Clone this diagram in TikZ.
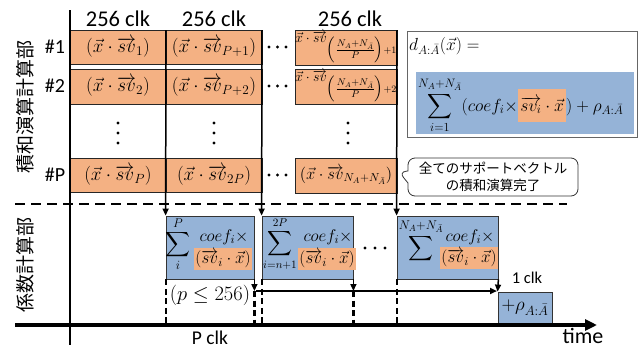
\RequirePackage{fix-cm}
\documentclass[tikz,border=0pt]{standalone}
\usepackage[no-math]{fontspec}
\setmainfont{Carlito}
\newfontfamily\jp{Noto Sans CJK JP}
\usepackage{amsmath}
\usetikzlibrary{arrows.meta,shapes.callouts}
\definecolor{sumorange}{HTML}{F4B183}
\definecolor{coefblue}{HTML}{95B3D7}
\tikzset{
  dotbox/.style={draw=black!85, fill=sumorange, line width=0.9pt, inner sep=0pt,
    font=\fontsize{19}{20}\selectfont},
  coefbox/.style={draw=black!80, fill=coefblue, line width=0.8pt, inner sep=0pt},
  hl/.style={fill=sumorange, inner xsep=1pt, inner ysep=2pt},
  colline/.style={line width=2.3pt},
  stub/.style={line width=2.2pt, dash pattern=on 6pt off 3.5pt},
  sepline/.style={line width=2.3pt, dash pattern=on 10pt off 6pt},
  arr/.style={-{Triangle[length=7pt,width=6pt]}, line width=1.5pt},
  clk/.style={font=\fontsize{22.5}{24}\selectfont},
  rowlbl/.style={font=\fontsize{20}{22}\selectfont},
  unitlbl/.style={font=\jp\fontsize{19}{20}\selectfont, rotate=90},
  mth/.style={inner sep=0pt, font=\fontsize{17}{20}\selectfont},
  summ/.style={inner sep=0pt, font=\fontsize{18}{20}\selectfont},
  fracidx/.style={inner sep=0pt, font=\fontsize{14}{15}\selectfont},
}
\newcommand{\svx}{\overrightarrow{sv}}
\newcommand{\blockidx}[1]{\textstyle\left(\frac{N_A+N_{\bar{A}}}{P}\right)\scriptstyle+#1}
\begin{document}
\begin{tikzpicture}[x=1pt,y=-1pt]
\useasboundingbox (0,0) rectangle (641,349);

% ---- dot-product blocks (upper section) ----
\node[dotbox, minimum width=96pt, minimum height=34pt] (a1) at (118,47) {$(\vec{x}\cdot\svx_1)$};
\node[dotbox, minimum width=96pt, minimum height=34pt] (b1) at (214,47) {$(\vec{x}\cdot\svx_{P+1})$};
\node[dotbox, minimum width=102pt, minimum height=35pt] (c1) at (346,47.5) {};
\node[fracidx] (c1t) at (346,47) {$\vec{x}\cdot\svx_{\blockidx{1}}$};
\node[dotbox, minimum width=96pt, minimum height=35pt] (a2) at (118,86.5) {$(\vec{x}\cdot\svx_2)$};
\node[dotbox, minimum width=96pt, minimum height=35pt] (b2) at (214,86.5) {$(\vec{x}\cdot\svx_{P+2})$};
\node[dotbox, minimum width=102pt, minimum height=35pt] (c2) at (346,86.5) {};
\node[fracidx] (c2t) at (346,86) {$\vec{x}\cdot\svx_{\blockidx{2}}$};
\node[dotbox, minimum width=96pt, minimum height=34pt] (ap) at (118,175) {$(\vec{x}\cdot\svx_P)$};
\node[dotbox, minimum width=96pt, minimum height=34pt] (bp) at (214,175) {$(\vec{x}\cdot\svx_{2P})$};
\node[dotbox, minimum width=102pt, minimum height=35pt, font=\fontsize{16.5}{18}\selectfont] (cp) at (346,175.5) {$(\vec{x}\cdot\svx_{N_A+N_{\bar{A}}})$};

% column headers and row labels
\node[clk] (h1) at (118,19) {256 clk};
\node[clk] (h2) at (214,19) {256 clk};
\node[clk] (h3) at (350,19) {256 clk};
\node[rowlbl] (l1) at (55,47) {\#1};
\node[rowlbl] (l2) at (55,86) {\#2};
\node[rowlbl] (lp) at (55,175) {\#P};
\node[unitlbl] (u1) at (25,107) {積和演算計算部};
\node[unitlbl] (u2) at (25,265) {係数計算部};

% ellipsis marks
\foreach \y in {47,86,175} \foreach \x in {269,277.5,286} \fill (\x,\y) circle (1.6pt);
\foreach \x in {118,214,348} \foreach \y in {123,133,143} \fill (\x,\y) circle (1.6pt);
\foreach \x in {365,375,385} \fill (\x,248) circle (1.6pt);

% ---- coefficient blocks (lower section) ----
\node[coefbox, minimum width=88pt, minimum height=63pt] (s1) at (210,247.5) {};
\node[coefbox, minimum width=91pt, minimum height=63pt] (s2) at (307.5,247.5) {};
\node[coefbox, minimum width=101pt, minimum height=63pt] (s3) at (447.5,247.5) {};
\node[coefbox, minimum width=54pt, minimum height=31pt, font=\fontsize{19}{20}\selectfont] (rho) at (525,307.5) {$+\rho_{A:\bar{A}}$};

\node[summ] (m1s) at (178,244) {$\displaystyle\sum_{i}^{P}$};
\node[mth] (m1c) at (224,237) {$coef_i\times$};
\node[mth, hl] (m1h) at (223,259) {$(\svx_i\cdot\vec{x})$};
\node[summ, font=\fontsize{16}{18}\selectfont] (m2s) at (280,244) {$\displaystyle\sum_{i=n+1}^{2P}$};
\node[mth] (m2c) at (328,237) {$coef_i\times$};
\node[mth, hl] (m2h) at (327,259) {$(\svx_i\cdot\vec{x})$};
\node[summ] (m3s) at (421,241) {$\displaystyle\sum^{N_A+N_{\bar{A}}}$};
\node[mth] (m3c) at (470,237) {$coef_i\times$};
\node[mth, hl] (m3h) at (469,258) {$(\svx_i\cdot\vec{x})$};

% ---- decision function ----
\node[draw=black!60, line width=1pt, fill=white, minimum width=230pt, minimum height=106pt] (fbox) at (522,84) {};
\node[mth, anchor=west, font=\fontsize{17.5}{20}\selectfont] (fd) at (409,46) {$d_{A:\bar{A}}(\vec{x}) =$};
\node[fill=coefblue, minimum width=218pt, minimum height=62pt, inner sep=0pt] (fblue) at (525,103) {};
\node[mth, anchor=base west, font=\fontsize{17.5}{20}\selectfont] (f1) at (418,111) {$\displaystyle\sum_{i=1}^{N_A+N_{\bar{A}}}(coef_i\times$};
\node[mth, fill=sumorange, inner xsep=2pt, inner ysep=8pt, anchor=base west, font=\fontsize{17.5}{20}\selectfont] (f2) at (f1.base east) {$\overrightarrow{sv_i}\cdot\vec{x}$};
\node[mth, anchor=base west, font=\fontsize{17.5}{20}\selectfont] (f3) at (f2.base east) {$)+\rho_{A:\bar{A}}$};

% completion note
\node[rectangle callout, draw=black!80, line width=0.8pt, rounded corners=7pt, fill=white,
  callout absolute pointer={(399,172)}, callout pointer width=12pt,
  minimum width=170pt, minimum height=38pt, align=center, inner sep=2pt,
  font=\jp\fontsize{13.5}{17}\selectfont] (note) at (493,177)
  {全てのサポートベクトル\\の積和演算完了};

% ---- axes and timing lines ----
\coordinate (ya) at (70,10);
\coordinate (yb) at (70,345);
\coordinate (t0) at (15,325);
\coordinate (t1) at (597,325);
\coordinate (d0) at (15,204);
\coordinate (d1) at (567,204);
\coordinate (c1top) at (166,30);
\coordinate (c2top) at (262,30);
\coordinate (c3top) at (397,30);
\coordinate (h0) at (256,291);
\coordinate (h1) at (497,291);

\draw[line width=2.6pt] (ya) -- (yb);
\draw[line width=3.2pt, -{Triangle[length=12pt,width=11pt]}] (t0) -- (t1);
\draw[sepline] (d0) -- (d1);
\draw[colline, arr] (c1top) -- (s1.north west);
\draw[colline, arr] (c2top) -- (s2.north west);
\draw[colline, arr] (c3top) -- (s3.north west);

\draw[stub] (s1.south west) -- (s1.south west |- t0);
\draw[arr] (s1.south east) -- (s1.south east |- h0);
\draw[stub] (s1.south east |- h0) -- (s1.south east |- t0);
\draw[stub] (s2.south west) -- (s2.south west |- t0);
\draw[arr] (s2.south east) -- (s2.south east |- h0);
\draw[stub] (s2.south east |- h0) -- (s2.south east |- t0);
\draw[stub] (s3.south west) -- (s3.south west |- t0);
\draw[arr] (s3.south east) -- (rho.north west);
\draw[arr, line width=1.8pt] (h0) -- (h1);

\node[mth, font=\fontsize{20.5}{22}\selectfont] (plim) at (210,295) {$(p\leq 256)$};
\node[font=\fontsize{19.5}{20}\selectfont, anchor=base, inner sep=0pt] (pclk) at (210,344) {P clk};
\node[font=\fontsize{16.5}{18}\selectfont] (oneclk) at (527,278) {1 clk};
\node[font=\fontsize{22}{24}\selectfont, anchor=base, inner sep=0pt] (time) at (583,343) {time};
\end{tikzpicture}
\end{document}
